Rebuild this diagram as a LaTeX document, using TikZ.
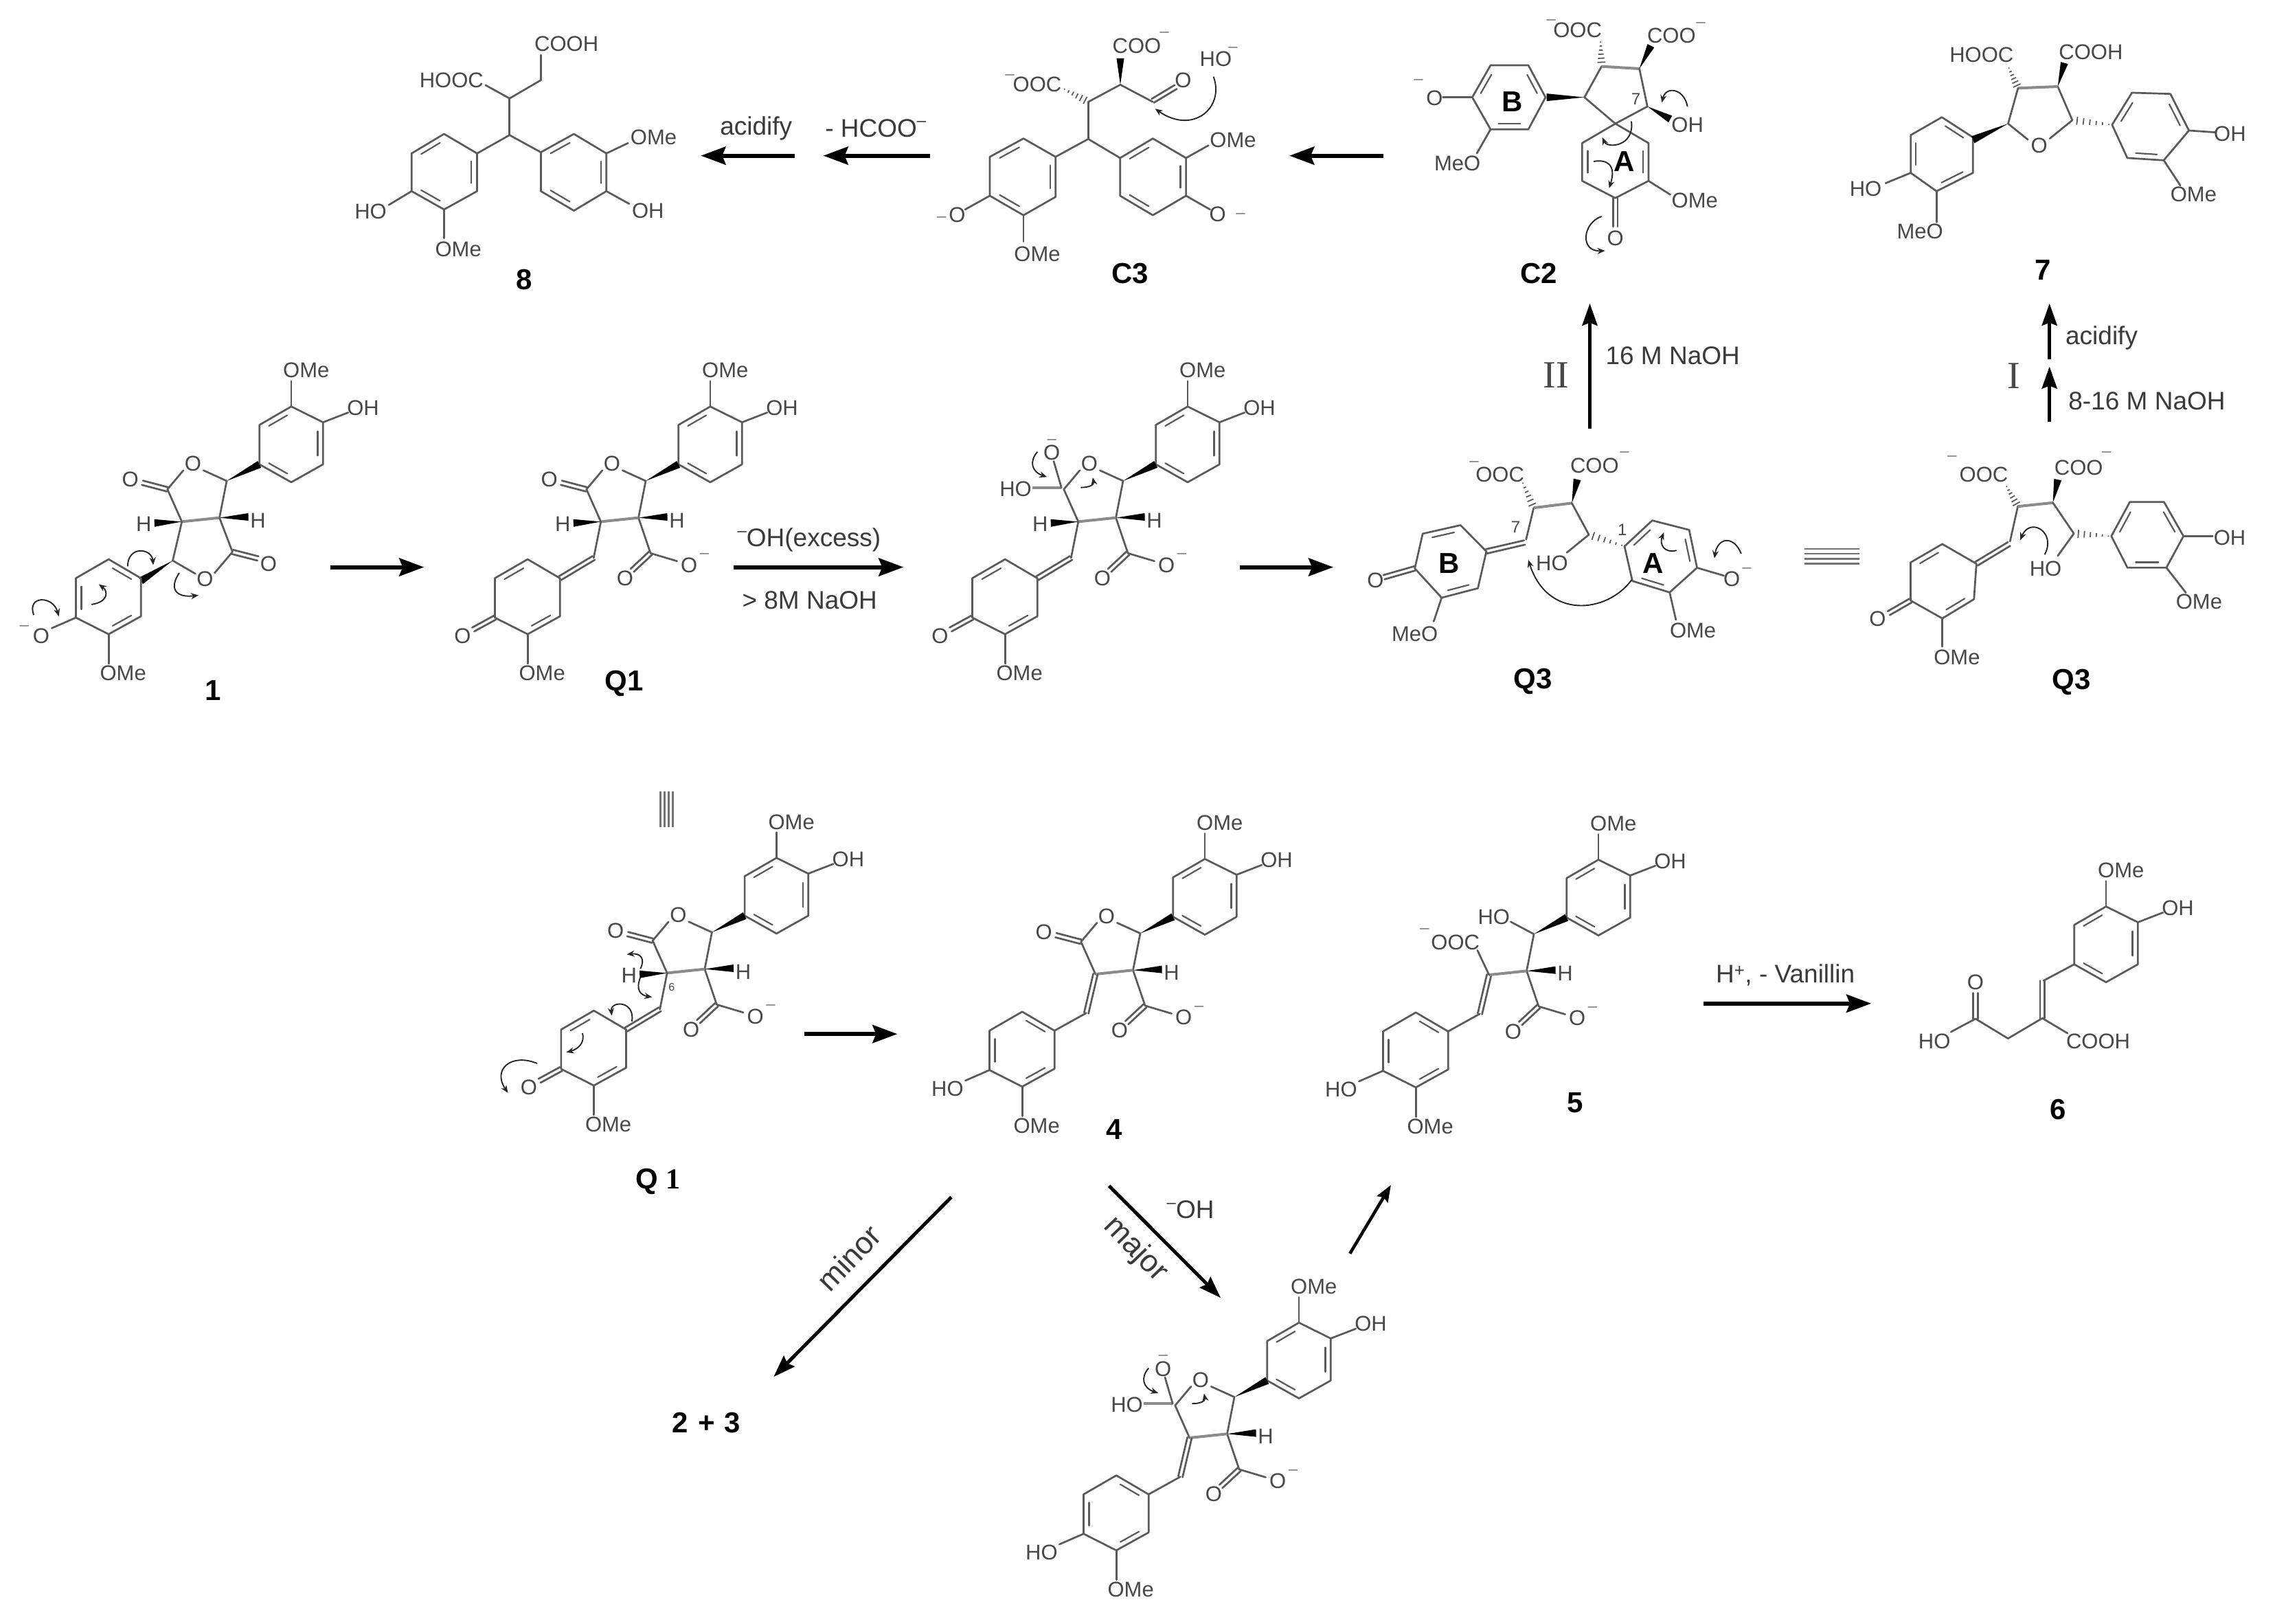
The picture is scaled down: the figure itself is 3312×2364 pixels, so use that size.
\documentclass[tikz,border=0pt]{standalone}
\usepackage{fontspec}
\setmainfont{Liberation Sans}
\newfontfamily\romfam{Liberation Serif}
\usetikzlibrary{calc,arrows.meta}
\definecolor{bondc}{HTML}{5A5A5A}
\definecolor{atomc}{HTML}{484848}
\newcounter{atomn}
\tikzset{
  crop/.style n args={4}{xshift=#1pt,yshift=-#2pt,x=#3pt,y=-#4pt},
  mol/.style 2 args={xshift=#1pt,yshift={(-480-(#2))*1pt},x=.7015pt,y=-.3827pt},
  bond/.style={draw=bondc,line width=2.7pt,line cap=round,line join=round},
  hazy/.style={draw=bondc!70,line width=4pt},
  hashl/.style={draw=bondc,line width=1.8pt},
  wedgef/.style={fill=black},
  atom/.style={inner sep=0pt,text=atomc,font=\fontsize{31}{31}\selectfont},
  minusn/.style={inner sep=0pt,text=atomc!70,font=\fontsize{24}{24}\selectfont},
  tiny/.style={inner sep=0pt,text=atomc,font=\fontsize{24}{24}\selectfont},
  lab/.style={inner sep=0pt,text=black,font=\fontsize{42}{42}\selectfont\bfseries},
  cond/.style={inner sep=0pt,text=atomc!80!black,font=\fontsize{37}{37}\selectfont},
  diag/.style={inner sep=0pt,text=atomc!80!black,font=\fontsize{45}{45}\selectfont},
  roman/.style={inner sep=0pt,text=atomc,font=\fontsize{56}{56}\selectfont\romfam},
  curv/.style={draw=black!85,line width=1.9pt,-{Stealth[length=11pt,width=9pt]}},
  rxn/.style={draw=black,line width=6pt,-{Stealth[length=36pt,width=26pt,inset=5pt]}},
  rxnt/.style={draw=black,line width=5pt,-{Stealth[length=32pt,width=22pt,inset=4pt]}},
  rxns/.style={draw=black,line width=4.5pt,-{Stealth[length=24pt,width=18pt,inset=3pt]}},
  bars/.style={draw=bondc!85,line width=2.6pt}
}
\newcommand\Bd[2]{\draw[bond] (#1) -- (#2);}
\newcommand\Hzy[2]{\draw[hazy] (#1) -- (#2);}
\newcommand\Atm[2]{\stepcounter{atomn}\node[atom] (atom\theatomn) at (#1) {#2};}
\newcommand\Mns[1]{\stepcounter{atomn}\node[minusn] (atom\theatomn) at (#1) {\raisebox{-.3em}[0pt][0pt]{–}};}
\newcommand\Dbl[2]{\draw[bond] ($(#1)!3.2pt!90:(#2)$) -- ($(#2)!3.2pt!-90:(#1)$);\draw[bond] ($(#1)!3.2pt!-90:(#2)$) -- ($(#2)!3.2pt!90:(#1)$);}
\newcommand\Wdg[2]{\fill[wedgef] (#1) -- ($(#2)!5.5pt!90:(#1)$) -- ($(#2)!5.5pt!-90:(#1)$) -- cycle;}
\newcommand\Hsh[2]{\foreach \hT/\hW in {.08/.8pt,.24/1.8pt,.4/2.8pt,.56/3.8pt,.72/4.8pt,.88/5.8pt}{\draw[hashl] ($(#1)!\hT!(#2)!\hW!90:(#2)$) -- ($(#1)!\hT!(#2)!\hW!-90:(#2)$);}}
\newcommand\Inb[2]{\draw[bond,line width=2.2pt] ($(#1)!.15!(#2)!.17!(rc)$) -- ($(#2)!.15!(#1)!.17!(rc)$);}
\newcommand\Rng[7]{\coordinate (ra) at (#1);\coordinate (rb) at (#2);\coordinate (rcc) at (#3);\coordinate (rd) at (#4);\coordinate (re) at (#5);\coordinate (rf) at (#6);\coordinate (rc) at ($(ra)!.5!(rd)$);\draw[bond] (ra) -- (rb) -- (rcc) -- (rd) -- (re) -- (rf) -- cycle;\foreach \pA/\pB in {#7}{\Inb{r\pA}{r\pB}}}
\newcommand\Sup{\raisebox{.42em}{\fontsize{24}{24}\selectfont –}}
% shared fragments, in the coordinates of molecule Q1
\newcommand\VanTop{\Rng{1474,292}{1540,352}{1540,512}{1474,580}{1408,512}{1408,362}{a/f,b/cc,d/e}\Bd{1474,292}{1474,195}\Atm{1505,155}{OMe}\Bd{1540,352}{1592,315}\Atm{1623,297}{OH}}
\newcommand\RightCore{\Wdg{1340,575}{1408,512}\Bd{1340,575}{1325,715}\Wdg{1325,715}{1385,712}\Atm{1405,725}{H}}
\newcommand\Carbox{\Bd{1325,715}{1350,850}\Dbl{1350,850}{1312,915}\Atm{1297,945}{O}\Bd{1350,850}{1405,880}\Atm{1430,895}{O}\Mns{1462,850}}
\newcommand\LactO{\Bd{1340,575}{1292,535}\Atm{1270,510}{O}\Bd{1250,535}{1217,607}\Bd{1217,607}{1247,730}\Hzy{1247,730}{1325,715}}
\newcommand\COx{\Dbl{1217,607}{1165,582}\Atm{1140,570}{O}}
\newcommand\HLeft{\Wdg{1247,730}{1190,735}\Atm{1168,738}{H}}
\newcommand\LowOMe{\Bd{1095,1158}{1095,1270}\Atm{1125,1307}{OMe}}
\newcommand\QM{\Bd{1247,730}{1232,868}\Dbl{1232,868}{1162,945}\Rng{1162,945}{1162,1090}{1095,1158}{1027,1095}{1027,945}{1095,873}{e/f,b/cc}\Dbl{1027,1095}{982,1140}\Atm{960,1165}{O}\LowOMe}
\newcommand\VanLow{\Dbl{1247,730}{1228,878}\Bd{1228,878}{1162,945}\Rng{1162,945}{1162,1090}{1095,1158}{1027,1095}{1027,945}{1095,873}{f/a,b/cc,d/e}\Bd{1027,1095}{977,1135}\Atm{940,1165}{HO}\LowOMe}
\newcommand\Tet{\Atm{1117,605}{HO}\Hzy{1212,600}{1152,600}\Bd{1212,600}{1196,500}\Atm{1192,468}{O}\Mns{1192,415}\draw[curv] (1162,465) .. controls (1145,500) and (1150,540) .. (1182,560);\draw[curv] (1252,600) .. controls (1270,600) and (1280,590) .. (1277,562);}
\begin{document}
\begin{tikzpicture}[x=1pt,y=-1pt]
\useasboundingbox (0,0) rectangle (3312,2364);
\fill[white] (0,0) rectangle (3312,2364);
% --- compound 1
\begin{scope}[mol={-610}{0}]
\VanTop\RightCore\LactO\COx\HLeft
\Bd{1247,730}{1228,878}\Bd{1228,878}{1275,928}\Atm{1295,948}{O}\Bd{1315,925}{1352,845}\Bd{1325,715}{1352,845}\Dbl{1352,845}{1405,870}\Atm{1427,890}{O}
\Wdg{1228,878}{1162,955}
\Rng{1162,945}{1162,1090}{1095,1158}{1027,1095}{1027,945}{1095,873}{f/a,b/cc,d/e}
\Bd{1027,1095}{977,1135}\Atm{955,1165}{O}\Mns{920,1125}\LowOMe
\end{scope}
\begin{scope}[crop={0}{480}{.7015}{.3827}]
\draw[curv] (265,900) .. controls (265,820) and (315,830) .. (318,895);
\draw[curv] (190,1045) .. controls (225,1035) and (225,995) .. (205,968);
\draw[curv] (372,925) .. controls (350,985) and (365,1020) .. (412,1010);
\draw[curv] (70,1085) .. controls (55,1010) and (110,1010) .. (122,1090);
\node[lab] (lab1) at (442,1372) {1};
\node[lab] (labQ1) at (1295,1345) {Q1};
\coordinate (r1s) at (685,903);\coordinate (r1e) at (880,903);
\coordinate (r2s) at (1522,903);\coordinate (r2e) at (1875,903);
\coordinate (r3s) at (2573,903);\coordinate (r3e) at (2767,903);
\node[cond,anchor=west] (c1) at (1530,800) {\Sup OH(excess)};
\node[cond,anchor=west] (c2) at (1540,1030) {> 8M NaOH};
\end{scope}
\draw[rxn] (r1s) -- (r1e);
\draw[rxn] (r2s) -- (r2e);
\draw[rxn] (r3s) -- (r3e);
% --- Q1
\begin{scope}[mol={0}{0}]
\VanTop\RightCore\Carbox\LactO\COx\HLeft\QM
\end{scope}
% --- tetrahedral intermediate
\begin{scope}[mol={695}{0}]
\VanTop\RightCore\Carbox\LactO\Tet\HLeft\QM
\end{scope}
% --- Q3 left
\begin{scope}[crop={2000}{450}{.4591}{.4591}]
\Rng{275,685}{357,768}{330,885}{215,915}{130,822}{155,712}{a/f,cc/d}
\Dbl{130,822}{32,850}\Atm{5,860}{O}
\Bd{215,915}{190,990}\Atm{130,1030}{MeO}
\Dbl{357,768}{478,740}\Bd{483,730}{507,630}
\Hzy{507,630}{628,615}
\Wdg{628,615}{645,540}\Atm{700,497}{COO}\Mns{795,452}
\Hsh{470,545}{507,630}\Atm{400,525}{OOC}\Mns{318,482}
\Bd{628,615}{682,715}\Bd{682,715}{612,772}\Atm{565,805}{HO}
\Hsh{795,752}{682,715}
\Rng{795,752}{883,670}{1000,700}{1025,820}{938,898}{820,862}{a/b,cc/d,e/f}
\Bd{1025,820}{1110,845}\Atm{1135,855}{O}\Mns{1183,820}
\Bd{938,898}{958,985}\Atm{1012,1020}{OMe}
\node[lab] (ringB) at (238,805) {B};
\node[lab] (ringA) at (885,805) {A};
\node[tiny] (n7) at (450,690) {7};
\node[tiny] (n1) at (788,700) {1};
\draw[curv] (818,858) .. controls (740,965) and (550,985) .. (490,795);
\draw[curv] (960,765) .. controls (920,775) and (905,745) .. (920,708);
\draw[curv] (1165,775) .. controls (1140,715) and (1090,725) .. (1080,790);
\node[lab] (labQ3a) at (505,1180) {Q3};
\node[roman] (rmII) at (578,210) {II};
\node[cond] (c3) at (948,148) {16 M NaOH};
\coordinate (r4s) at (685,380);\coordinate (r4e) at (685,-18);
\end{scope}
\draw[rxnt] (r4s) -- (r4e);
% --- Q3 right
\begin{scope}[crop={2200}{480}{.7092}{.3827}]
\foreach \yb in {833,852,871,890}{\draw[bars] (602,\yb) -- (715,\yb);}
\Rng{885,815}{955,890}{950,1025}{885,1098}{820,1030}{820,885}{a/f,cc/d}
\Dbl{820,1030}{775,1078}\Atm{752,1100}{O}
\Bd{885,1098}{885,1205}\Atm{915,1245}{OMe}
\Dbl{955,890}{1022,815}\Bd{1024,805}{1040,672}
\Hzy{1040,672}{1112,658}
\Wdg{1112,658}{1122,570}\Atm{1165,525}{COO}\Mns{1222,462}
\Hsh{1015,590}{1040,672}\Atm{970,550}{OOC}\Mns{905,478}
\Bd{1112,658}{1155,775}\Bd{1155,775}{1122,860}\Atm{1097,910}{HO}
\Hsh{1232,785}{1155,775}
\Rng{1232,785}{1270,655}{1340,655}{1380,785}{1345,905}{1265,905}{a/b,cc/d,e/f}
\Bd{1380,785}{1440,785}\Atm{1475,790}{OH}
\Bd{1345,905}{1385,1000}\Atm{1412,1035}{OMe}
\draw[curv] (1095,855) .. controls (1120,770) and (1065,710) .. (1045,800);
\node[lab] (labQ3b) at (1150,1340) {Q3};
\node[roman] (rmI) at (1032,175) {I};
\node[cond] (c4) at (1305,272) {8-16 M NaOH};
\node[cond] (c5) at (1212,30) {acidify};
\coordinate (r5s) at (1105,350);\coordinate (r5e) at (1105,140);
\coordinate (r6s) at (1105,112);\coordinate (r6e) at (1105,-100);
\end{scope}
\draw[rxnt] (r5s) -- (r5e);
\draw[rxnt] (r6s) -- (r6e);
% --- 8
\begin{scope}[crop={450}{0}{.829}{.3333}]
\Rng{237,585}{295,670}{295,835}{237,915}{180,835}{180,670}{a/f,b/cc,d/e}
\Rng{465,585}{522,670}{522,835}{465,920}{407,835}{407,665}{a/f,b/cc,d/e}
\Bd{295,670}{352,590}\Bd{407,665}{352,590}\Bd{352,590}{352,430}
\Bd{352,430}{310,372}\Bd{352,430}{407,350}\Bd{407,350}{407,240}
\Atm{452,190}{COOH}\Atm{250,350}{HOOC}
\Bd{522,670}{560,625}\Atm{605,600}{OMe}
\Bd{522,835}{562,890}\Atm{595,920}{OH}
\Bd{180,835}{140,895}\Atm{108,925}{HO}
\Bd{237,915}{237,1040}\Atm{262,1090}{OMe}
\node[lab] (lab8) at (378,1220) {8};
\node[cond] (c6) at (785,560) {acidify};
\node[cond] (c7) at (995,560) {- HCOO\Sup};
\coordinate (r7s) at (853,680);\coordinate (r7e) at (688,680);
\coordinate (r8s) at (1090,680);\coordinate (r8e) at (903,680);
\end{scope}
\draw[rxn] (r7s) -- (r7e);
\draw[rxn] (r8s) -- (r8e);
% --- C3
\begin{scope}[crop={1340}{0}{.3333}{.3333}]
\Rng{450,605}{590,685}{590,860}{450,940}{303,855}{303,685}{a/f,b/cc,d/e}
\Rng{1015,605}{1160,690}{1160,855}{1015,940}{872,855}{872,690}{a/f,b/cc,d/e}
\Bd{590,685}{733,607}\Bd{872,690}{733,607}\Bd{733,607}{733,445}
\Bd{733,445}{873,370}\Hsh{620,385}{733,445}
\Atm{510,368}{OOC}\Mns{390,325}
\Wdg{873,370}{873,255}\Atm{945,200}{COO}\Mns{1065,140}
\Bd{873,370}{1015,445}\Dbl{1015,440}{1115,380}\Atm{1147,350}{O}
\Atm{1290,258}{HO}\Mns{1365,205}
\draw[curv] (1280,335) .. controls (1330,470) and (1190,590) .. (1025,475);
\Bd{1160,690}{1258,635}\Atm{1365,612}{OMe}
\Bd{1160,855}{1265,915}\Atm{1298,935}{O}\Mns{1398,930}
\Bd{303,855}{195,915}\Atm{160,940}{O}\Mns{92,945}
\Bd{450,940}{450,1055}\Atm{510,1110}{OMe}
\node[lab] (labC3) at (915,1195) {C3};
\end{scope}
% --- C2
\begin{scope}[crop={2060}{0}{.3333}{.3333}]
\Rng{250,425}{330,285}{495,285}{570,425}{495,565}{330,565}{a/b,cc/d,e/f}
\Bd{250,425}{122,425}\Atm{85,430}{O}\Mns{15,347}
\Bd{330,565}{270,670}\Atm{185,715}{MeO}
\Wdg{740,425}{575,425}
\Bd{740,425}{815,290}\Hzy{815,290}{980,300}\Bd{980,300}{1015,465}\Bd{1015,465}{875,540}\Bd{875,540}{740,425}
\Hsh{810,175}{815,285}\Atm{710,130}{OOC}\Mns{595,85}
\Wdg{980,300}{1030,200}\Atm{1120,155}{COO}\Mns{1248,97}
\Wdg{1015,465}{1115,520}\Atm{1190,545}{OH}
\node[tiny] (n7b) at (965,432) {7};
\Rng{875,540}{1020,625}{1020,790}{875,865}{730,790}{730,625}{b/cc,e/f}
\Bd{1020,790}{1115,850}\Atm{1222,875}{OMe}
\Dbl{875,865}{875,990}\Atm{875,1040}{O}
\node[lab] (ringB2) at (425,445) {B};
\node[lab] (ringA2) at (915,705) {A};
\draw[curv] (1190,465) .. controls (1175,385) and (1095,375) .. (1078,448);
\draw[curv] (945,530) .. controls (960,640) and (840,650) .. (818,600);
\draw[curv] (780,705) .. controls (840,695) and (880,720) .. (848,822);
\draw[curv] (815,945) .. controls (730,975) and (720,1100) .. (830,1095);
\node[lab] (labC2) at (540,1195) {C2};
\end{scope}
\begin{scope}[crop={1800}{0}{.9643}{.3333}]
\coordinate (r9s) at (222,680);\coordinate (r9e) at (80,680);
% --- 7
\Rng{1065,512}{1112,600}{1112,755}{1057,835}{1018,755}{1018,590}{a/b,e/f,cc/d}
\Bd{1018,755}{980,800}\Atm{950,825}{HO}
\Bd{1057,835}{1057,970}\Atm{1032,1010}{MeO}
\Wdg{1165,540}{1112,610}
\Bd{1165,540}{1195,610}\Atm{1212,635}{O}\Bd{1228,605}{1262,525}\Bd{1262,525}{1240,378}\Hzy{1240,378}{1180,385}\Bd{1180,385}{1165,540}
\Hsh{1165,290}{1180,385}\Atm{1125,240}{HOOC}
\Wdg{1240,378}{1250,275}\Atm{1290,228}{COOH}
\Hsh{1322,545}{1262,525}
\Rng{1322,545}{1352,405}{1410,410}{1438,570}{1400,700}{1345,690}{a/b,cc/d,e/f}
\Bd{1438,570}{1478,578}\Atm{1500,585}{OH}
\Bd{1400,700}{1425,810}\Atm{1445,850}{OMe}
\node[lab] (lab7) at (1218,1180) {7};
\end{scope}
\draw[rxn] (r9s) -- (r9e);
% --- Q1 (lower)
\begin{scope}[mol={96.4}{657}]
\VanTop\RightCore\Carbox\LactO\COx\HLeft\QM
\end{scope}
\begin{scope}[crop={650}{1150}{.7334}{.3827}]
\foreach \xb in {425,433,441,449}{\draw[bars] (\xb,5) -- (\xb,140);}
\node[inner sep=0pt,text=atomc,font=\fontsize{16}{16}\selectfont] (n6) at (447,750) {6};
\draw[curv] (385,680) .. controls (395,640) and (385,620) .. (358,625);
\draw[curv] (385,712) .. controls (375,760) and (385,780) .. (408,788);
\draw[curv] (368,880) .. controls (375,800) and (325,800) .. (328,858);
\draw[curv] (270,925) .. controls (275,960) and (262,985) .. (238,998);
\draw[curv] (180,1040) .. controls (130,1000) and (90,1060) .. (122,1152);
\node[lab] (labQ1b) at (420,1490) {Q {\romfam 1}};
\node[lab] (lab4) at (1325,1290) {4};
\coordinate (r10s) at (710,928);\coordinate (r10e) at (895,928);
\end{scope}
\draw[rxn] (r10s) -- (r10e);
% --- 4
\begin{scope}[mol={720}{658.6}]
\VanTop\RightCore\Carbox\LactO\COx\VanLow
\end{scope}
% --- 5
\begin{scope}[mol={1293}{659.7}]
\VanTop\RightCore\Carbox\VanLow
\Hzy{1247,730}{1325,715}
\Bd{1340,575}{1292,528}\Atm{1257,510}{HO}
\Bd{1247,730}{1223,637}\Atm{1177,607}{OOC}\Mns{1113,554}
\end{scope}
% --- 6 and arrow
\begin{scope}[mol={2032}{727.8}]
\VanTop
\end{scope}
\begin{scope}[crop={1800}{1150}{.8929}{.3827}]
\Bd{1366,663}{1316,725}\Dbl{1314,725}{1314,868}
\Bd{1314,868}{1258,945}\Bd{1258,945}{1205,870}\Bd{1205,870}{1165,920}\Atm{1138,955}{HO}
\Dbl{1205,870}{1205,772}\Atm{1205,730}{O}
\Bd{1314,868}{1355,925}\Atm{1405,955}{COOH}
\node[lab] (lab6) at (1340,1215) {6};
\node[lab] (lab5) at (552,1190) {5};
\node[cond] (c8) at (895,705) {H\textsuperscript{+}, - Vanillin};
\coordinate (r11s) at (762,812);\coordinate (r11e) at (1035,812);
\end{scope}
\draw[rxn] (r11s) -- (r11e);
% --- lower intermediate
\begin{scope}[mol={857}{1333.6}]
\VanTop\RightCore\Carbox\LactO\Tet\VanLow
\end{scope}
% --- diagonal arrows
\begin{scope}[crop={900}{1720}{.829}{.4107}]
\coordinate (r12s) at (585,55);\coordinate (r12e) at (273,692);
\coordinate (r13s) at (862,15);\coordinate (r13e) at (1058,412);
\coordinate (r14s) at (1285,255);\coordinate (r14e) at (1357,12);
\node[diag,rotate=46] (c9) at (405,270) {minor};
\node[diag,rotate=-46] (c10) at (908,240) {major};
\node[cond] (c11) at (1005,100) {\Sup OH};
\node[lab] (lab23) at (155,855) {2\,\,+\,\,3};
\end{scope}
\draw[rxnt] (r12s) -- (r12e);
\draw[rxnt] (r13s) -- (r13e);
\draw[rxns] (r14s) -- (r14e);
\end{tikzpicture}
\end{document}
